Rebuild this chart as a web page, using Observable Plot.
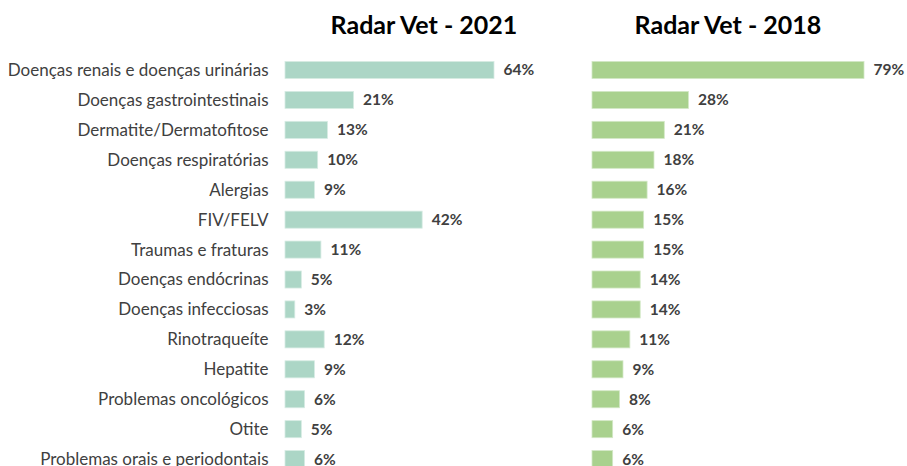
<!DOCTYPE html>
<html>
<head>
<meta charset="utf-8">
<script src="https://cdn.jsdelivr.net/npm/d3@7"></script>
<script src="https://cdn.jsdelivr.net/npm/@observablehq/plot@0.6"></script>
<style>
  html, body { margin: 0; padding: 0; background: #fff; }
  body { width: 907px; height: 466px; overflow: hidden; position: relative; font-family: Lato, "Open Sans", sans-serif; }
  .panel { position: absolute; left: 0; top: 0; }
  .title { position: absolute; top: 9px; font-weight: bold; font-size: 25px; line-height: 30px; color: #000; text-align: center; white-space: nowrap; }
</style>
</head>
<body>
<div class="title" style="left:324px;width:200px;">Radar Vet - 2021</div>
<div class="title" style="left:628px;width:200px;">Radar Vet - 2018</div>
<div id="left" class="panel"></div>
<div id="right" class="panel"></div>
<script>
const categories = [
  "Doenças renais e doenças urinárias",
  "Doenças gastrointestinais",
  "Dermatite/Dermatofitose",
  "Doenças respiratórias",
  "Alergias",
  "FIV/FELV",
  "Traumas e fraturas",
  "Doenças endócrinas",
  "Doenças infecciosas",
  "Rinotraqueíte",
  "Hepatite",
  "Problemas oncológicos",
  "Otite",
  "Problemas orais e periodontais"
];
const values2021 = [64, 21, 13, 10, 9, 42, 11, 5, 3, 12, 9, 6, 5, 6];
const values2018 = [79, 28, 21, 18, 16, 15, 15, 14, 14, 11, 9, 8, 6, 6];

const data2021 = categories.map((c, i) => ({cat: c, v: values2021[i]}));
const data2018 = categories.map((c, i) => ({cat: c, v: values2018[i]}));

const common = {
  height: 482,
  marginTop: 48.6,
  marginBottom: 1.5,
  style: {background: "transparent", overflow: "visible"},
};
const yScale = {domain: categories, padding: 0.43, round: false, label: null};

const left = Plot.plot({
  ...common,
  width: 590,
  marginLeft: 285,
  marginRight: 96,
  x: {domain: [0, 64], axis: null},
  y: yScale,
  marks: [
    Plot.axisY({tickSize: 0, tickPadding: 17, fontSize: 17, fill: "#404040", label: null, fontFamily: "Lato, sans-serif"}),
    Plot.barX(data2021, {x: "v", y: "cat", fill: "#acd6c6", stroke: "#d6ebe3", strokeWidth: 0.8}),
    Plot.text(data2021, {x: "v", y: "cat", text: d => d.v + "%", textAnchor: "start", dx: 9, fontWeight: "bold", fontSize: 15.5, fill: "#404040", fontFamily: "Lato, sans-serif"})
  ]
});
document.getElementById("left").appendChild(left);

const right = Plot.plot({
  ...common,
  width: 907,
  marginLeft: 592,
  marginRight: 43,
  x: {domain: [0, 79], axis: null},
  y: {...yScale, axis: null},
  marks: [
    Plot.barX(data2018, {x: "v", y: "cat", fill: "#a9d18e", stroke: "#d3e8c6", strokeWidth: 0.8}),
    Plot.text(data2018, {x: "v", y: "cat", text: d => d.v + "%", textAnchor: "start", dx: 9, fontWeight: "bold", fontSize: 15.5, fill: "#404040", fontFamily: "Lato, sans-serif"})
  ]
});
document.getElementById("right").appendChild(right);
</script>
</body>
</html>
